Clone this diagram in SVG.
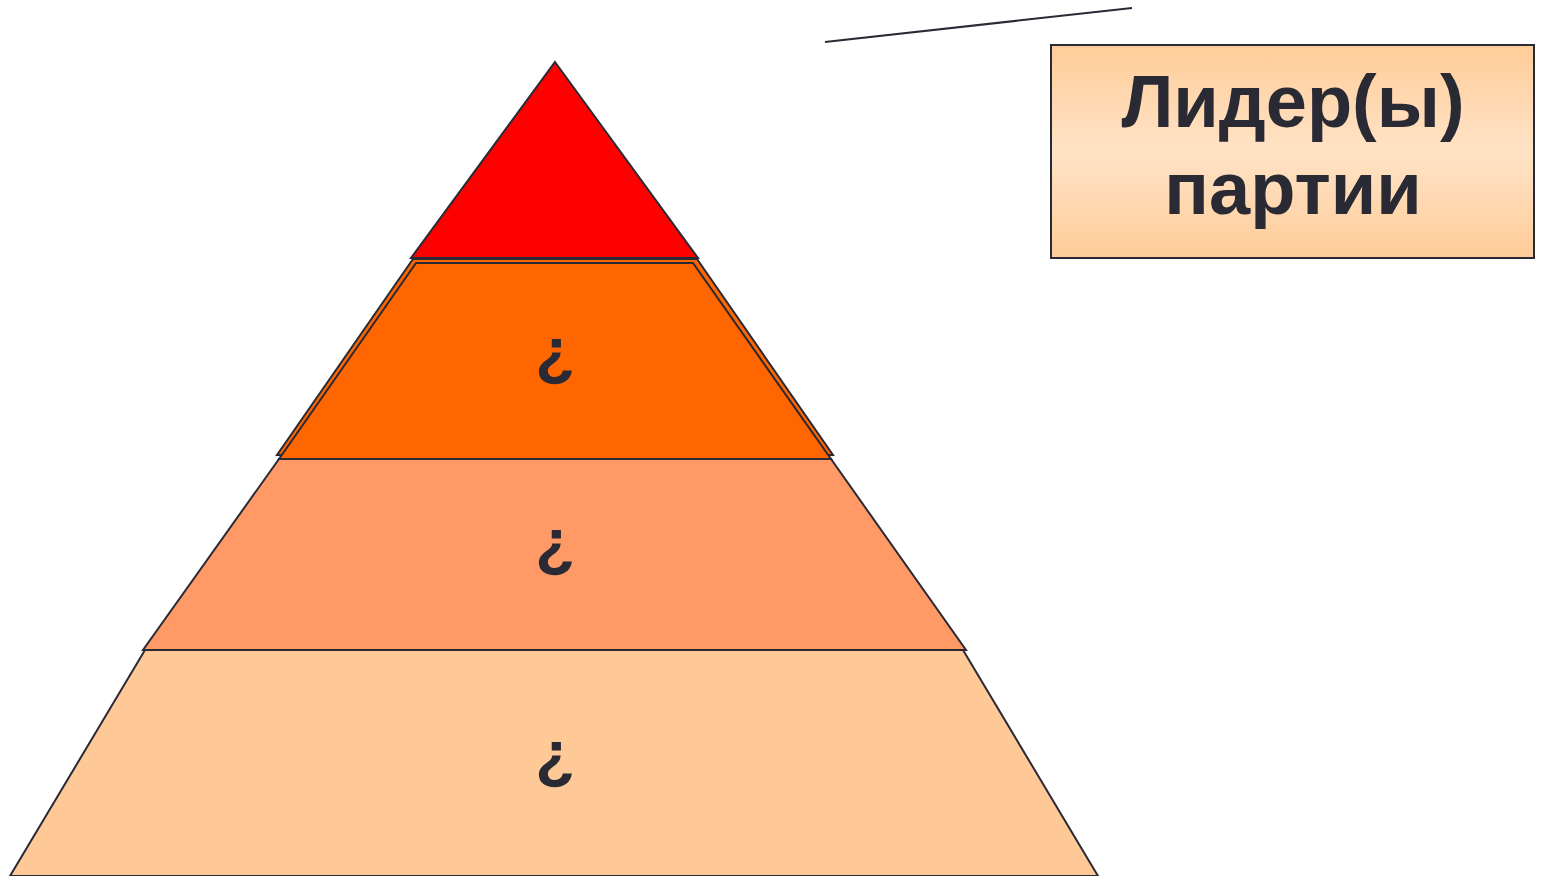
<svg xmlns="http://www.w3.org/2000/svg" width="1543" height="876" viewBox="0 0 1543 876">
<defs>
<linearGradient id="boxg" x1="0" y1="0" x2="0" y2="1">
<stop offset="0" stop-color="#FFCC99"/>
<stop offset="0.5" stop-color="#FFE3C6"/>
<stop offset="1" stop-color="#FFCC99"/>
</linearGradient>
<style>
.sh{stroke:#2A2A35;stroke-width:2;stroke-linejoin:miter}
.q{font-family:"Liberation Sans",Arial,sans-serif;font-weight:bold;font-size:65px;fill:#2A2A35;text-anchor:middle}
.t{font-family:"Liberation Sans",Arial,sans-serif;font-weight:bold;font-size:74px;fill:#2A2A35;text-anchor:middle}
</style>
</defs>
<rect width="1543" height="876" fill="#FFFFFF"/>
<g id="level4">
<polygon class="sh" points="145,650 963,650 1098,876 10,876" fill="#FFC997"/>
<text class="q" x="555" y="776">¿</text>
</g>
<g id="level3">
<polygon class="sh" points="279,459 831,459 966,650 143,650" fill="#FF9966"/>
<text class="q" x="555" y="564">¿</text>
</g>
<g id="level2">
<polygon class="sh" points="413,259 697,259 833,455 277,455" fill="#FF6600"/>
<polygon class="sh" points="416,263 693,263 831,459 279,459" fill="#FF6600"/>
<text class="q" x="555" y="373">¿</text>
</g>
<g id="level1">
<polygon class="sh" points="555,62 698,258 411,258" fill="#FF0000"/>
</g>
<g id="connectors">
<line x1="825" y1="42" x2="1132" y2="8" stroke="#2A2A35" stroke-width="2"/>
</g>
<g id="leaders">
<rect x="1051" y="45" width="483" height="213" fill="url(#boxg)" stroke="#2A2A35" stroke-width="2"/>
<text class="t" x="1293" y="127">Лидер(ы)</text>
<text class="t" x="1293" y="214">партии</text>
</g>
</svg>
